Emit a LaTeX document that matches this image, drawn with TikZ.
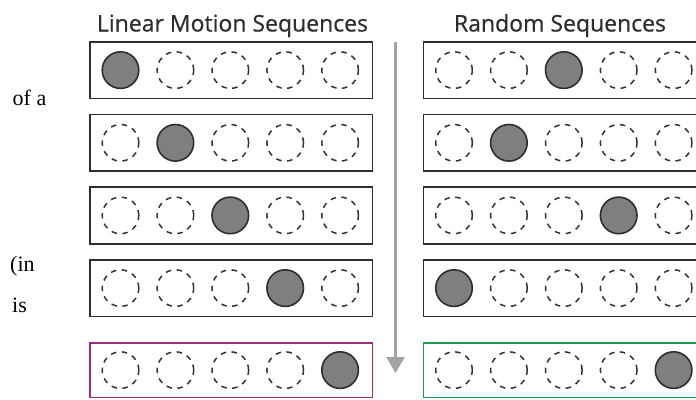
\documentclass[tikz,border=0pt]{standalone}
\usepackage{fontspec}
\setmainfont{Liberation Serif}
\newfontfamily\headfont[FakeBold=0.6]{Open Sans}
\usetikzlibrary{arrows.meta}

\definecolor{edgegray}{HTML}{2E2E2E}
\definecolor{slotfill}{HTML}{7F7F7F}
\definecolor{dashgray}{HTML}{333333}
\definecolor{flowgray}{HTML}{A3A3A3}
\definecolor{linearedge}{HTML}{9C2F7C}
\definecolor{randomedge}{HTML}{1E9A52}

\tikzset{
  rowbox/.style={draw=edgegray, line width=1.7pt, minimum width=282.5pt,
    minimum height=56.5pt, inner sep=0pt, rectangle},
  filledslot/.style={circle, draw=edgegray, fill=slotfill, line width=1.6pt,
    minimum size=36.6pt, inner sep=0pt},
  emptyslot/.style={circle, draw=dashgray, line width=1.5pt,
    dash pattern=on 5.5pt off 5.5pt, minimum size=36.6pt, inner sep=0pt},
  heading/.style={font=\headfont\fontsize{23}{27}\selectfont, text=edgegray,
    anchor=base, inner sep=0pt},
  sidetext/.style={font=\fontsize{22}{26}\selectfont, anchor=base west, inner sep=0pt},
  flowarrow/.style={draw=flowgray, line width=3pt,
    -{Triangle[width=18pt,length=16pt]}}
}

\begin{document}
\begin{tikzpicture}[x=1pt,y=-1pt]
\useasboundingbox (0,0) rectangle (696,399);
\fill[white] (0,0) rectangle (696,399);

% column headings
\node[heading] (hlin) at (232.5,31.5) {Linear Motion Sequences};
\node[heading] (hrnd) at (560,31.5) {Random Sequences};

% fragments of surrounding text on the left
\node[sidetext] (t1) at (12.5,105.5) {of a};
\node[sidetext] (t2) at (10,271) {(in};
\node[sidetext] (t3) at (12,312) {is};

% rows: index / top edge / height / filled slot left / filled slot right / frame colours
\foreach \r/\ty/\h/\lf/\rf/\lc/\rc in {
  1/41/56.5/1/3/edgegray/edgegray,
  2/113.7/56.5/2/2/edgegray/edgegray,
  3/186.3/56.5/3/4/edgegray/edgegray,
  4/259/56.5/4/1/edgegray/edgegray,
  5/342/54.5/5/5/linearedge/randomedge}{
  \node[rowbox, draw=\lc, minimum height=\h pt, anchor=north west] (L\r) at (89,\ty) {};
  \node[rowbox, draw=\rc, minimum height=\h pt, anchor=north west] (R\r) at (422.5,\ty) {};
  \foreach \i in {1,...,5}{
    \pgfmathsetmacro\dx{31.5+54.9*(\i-1)}
    \ifnum\i=\lf\relax\def\slotL{filledslot}\else\def\slotL{emptyslot}\fi
    \ifnum\i=\rf\relax\def\slotR{filledslot}\else\def\slotR{emptyslot}\fi
    \node[\slotL] (L\r s\i) at ([xshift=\dx pt]L\r.west) {};
    \node[\slotR] (R\r s\i) at ([xshift=\dx pt]R\r.west) {};
  }
}

% time arrow between the two columns
\coordinate (flowtop) at (395.5,42);
\coordinate (flowend) at (395.5,373);
\draw[flowarrow] (flowtop) -- (flowend);
\end{tikzpicture}
\end{document}
